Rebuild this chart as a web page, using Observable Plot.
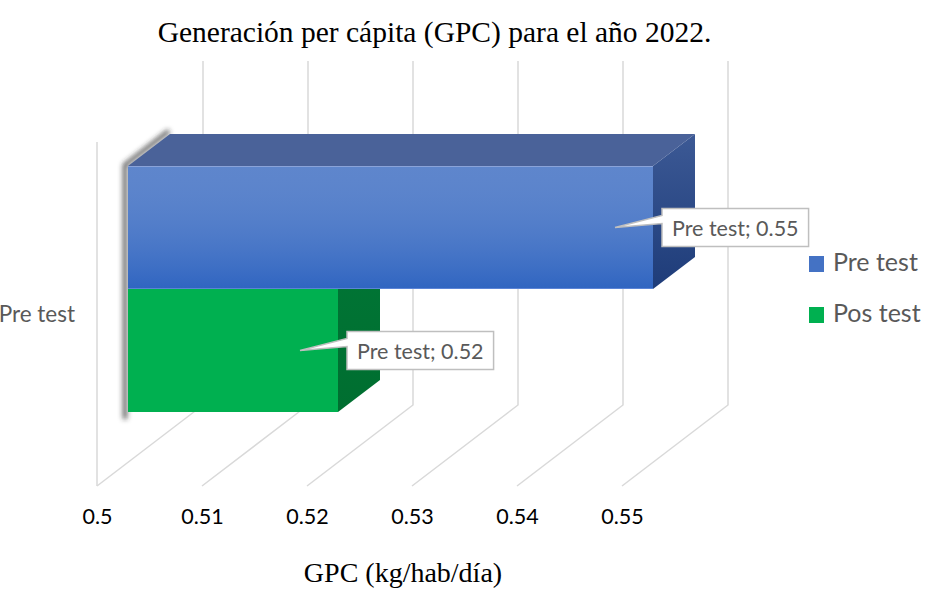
<!DOCTYPE html>
<html>
<head>
<meta charset="utf-8">
<script src="https://cdn.jsdelivr.net/npm/d3@7"></script>
<script src="https://cdn.jsdelivr.net/npm/@observablehq/plot@0.6"></script>
<style>
  html, body { margin: 0; padding: 0; background: #fff; }
  body { width: 928px; height: 589px; overflow: hidden; position: relative; }
  #title { position: absolute; left: 0; top: 18px; width: 869px; text-align: center;
           font-family: "Liberation Serif", "Times New Roman", serif; font-size: 29.5px; line-height: 1; color: #000; white-space: nowrap; }
  #xlabel { position: absolute; left: 0; top: 559px; width: 806px; text-align: center;
           font-family: "Liberation Serif", "Times New Roman", serif; font-size: 28px; line-height: 1; color: #000; white-space: nowrap; }
  #chart { position: absolute; left: 0; top: 52px; }
</style>
</head>
<body>
<div id="title"></div>
<div id="chart"></div>
<div id="xlabel"></div>
<script>
// ---------- data ----------
const categories = ["Pre test"];
const series = ["Pre test", "Pos test"];
const values = [0.55, 0.52];
const xTicks = [0.5, 0.51, 0.52, 0.53, 0.54, 0.55];
const titleText = "Generación per cápita (GPC) para el año 2022.";
const xLabelText = "GPC (kg/hab/día)";
const seriesColors = ["#4472c4", "#00b050"];

const data = series.map((s, i) => ({series: s, category: categories[0], value: values[i]}));
const base = xTicks[0];

// ---------- geometry / style ----------
const W = 928, H = 537;
const floorFront = 434, floorBack = 353, gridTop = 9, wallTop = 90;
const depthDX = 106;          // floor depth (px)
const frontDX = 31;           // bars' front plane offset
const barDX = 42, barDY = 32; // bar depth
const labelFont = "Lato";
const SVGNS = "http://www.w3.org/2000/svg";

function el(name, attrs, parent) {
  const e = document.createElementNS(SVGNS, name);
  for (const k in attrs) e.setAttribute(k, attrs[k]);
  if (parent) parent.appendChild(e);
  return e;
}
function bandwidth(y) { return typeof y.bandwidth === "function" ? y.bandwidth() : y.bandwidth; }
const ctx = document.createElement("canvas").getContext("2d");
function measure(text, size) { ctx.font = `${size}px ${labelFont}`; return ctx.measureText(text).width; }

// back: grid, wall, shadow, side and top faces
function backMark(index, scales) {
  const x = scales.x, y = scales.y, bw = bandwidth(y);
  const g = el("g", {});
  const defs = el("defs", {}, g);
  const f = el("filter", {id: "shBlur", x: "-50%", y: "-50%", width: "200%", height: "200%"}, defs);
  el("feGaussianBlur", {stdDeviation: 2.4}, f);
  const grads = [
    {id: "side0", top: "#3c5995", bot: "#1e3c79"},
    {id: "side1", top: "#007535", bot: "#006e30"}
  ];
  for (const gr of grads) {
    const lg = el("linearGradient", {id: gr.id, x1: 0, y1: 0, x2: 0, y2: 1}, defs);
    el("stop", {offset: "0%", "stop-color": gr.top}, lg);
    el("stop", {offset: "100%", "stop-color": gr.bot}, lg);
  }
  // gridlines
  for (const t of xTicks) {
    const x0 = x(t);
    el("path", {d: `M${x0},${floorFront}L${x0 + depthDX},${floorBack}V${gridTop}`, fill: "none", stroke: "#d9d9d9", "stroke-width": 1.5}, g);
  }
  // left wall front edge
  el("path", {d: `M${x(base)},${floorFront}V${wallTop}`, fill: "none", stroke: "#d9d9d9", "stroke-width": 1.5}, g);
  // shadow along the left contour
  const yTop = y(series[0]), yBot = y(series[series.length - 1]) + bw;
  const xl = x(base) + frontDX;
  el("path", {d: `M${xl + barDX + 2},${yTop - barDY - 3}L${xl},${yTop - 1}L${xl},${yBot + 7}`, fill: "none", stroke: "#2e2e2e", "stroke-width": 4.5,
    "stroke-opacity": 0.75, filter: "url(#shBlur)", transform: "translate(-3,0)"}, g);
  const topColors = ["#4a6299", "#008a3e"];
  for (let i = data.length - 1; i >= 0; --i) {
    const d = data[i];
    const x1 = x(base) + frontDX, x2 = x(d.value) + frontDX, y0 = y(d.series), y1 = y0 + bw;
    el("path", {d: `M${x1},${y0}L${x1 + barDX},${y0 - barDY}L${x2 + barDX},${y0 - barDY}L${x2},${y0}Z`, fill: topColors[i]}, g);
    el("path", {d: `M${x2},${y0}L${x2 + barDX},${y0 - barDY}L${x2 + barDX},${y1 - barDY}L${x2},${y1}Z`, fill: `url(#side${i})`}, g);
  }
  return g;
}

// front: gradient overlay, callouts, category label, legend
function frontMark(index, scales) {
  const x = scales.x, y = scales.y, color = scales.color, bw = bandwidth(y);
  const g = el("g", {"text-anchor": "start"});
  const defs = el("defs", {}, g);
  const lg = el("linearGradient", {id: "frontOv", x1: 0, y1: 0, x2: 0, y2: 1}, defs);
  el("stop", {offset: "0%", "stop-color": "#ffffff", "stop-opacity": 0.14}, lg);
  el("stop", {offset: "100%", "stop-color": "#0046b9", "stop-opacity": 0.3}, lg);
  // blue front overlay
  {
    const d = data[0];
    const x1 = x(base) + frontDX, x2 = x(d.value) + frontDX, y0 = y(d.series);
    el("rect", {x: x1, y: y0, width: x2 - x1, height: bw, fill: "url(#frontOv)"}, g);
    el("path", {d: `M${x1},${y0 + 0.5}H${x2}`, stroke: "#8aa3d9", "stroke-width": 1}, g);
    el("path", {d: `M${x1},${y0 + bw - 0.5}H${x2}`, stroke: "#5b84d6", "stroke-width": 1}, g);
  }
  // callouts
  const fs = 21.5;
  for (const d of data) {
    const xr = x(d.value) + frontDX, yc = y(d.series) + bw / 2;
    const text = `${d.category}; ${d.value}`;
    const tw = measure(text, fs);
    const bx = xr + 9, bwid = tw + 20, bh = 38, by = yc - bh / 2;
    const tipx = xr - 38, tipy = yc;
    el("path", {d: `M${bx},${by}H${bx + bwid}V${by + bh}H${bx}V${by + 15}L${tipx},${tipy}L${bx},${by + 7}Z`,
      fill: "#ffffff", stroke: "#bfbfbf", "stroke-width": 1.5, "stroke-linejoin": "miter"}, g);
    const t = el("text", {x: bx + 10, y: by + 27, fill: "#595959", "font-size": fs, "font-family": labelFont, "text-anchor": "start"}, g);
    t.textContent = text;
  }
  // category label
  const mid = (y(series[0]) + y(series[series.length - 1]) + bw) / 2;
  const ct = el("text", {x: x(base) - 22, y: mid + 33, "text-anchor": "end", fill: "#595959", "font-size": 22.5, "font-family": labelFont}, g);
  ct.textContent = categories[0];
  // legend
  series.forEach((s, i) => {
    const ly = 204 + i * 51;
    el("rect", {x: 809, y: ly, width: 15, height: 16, fill: color(s)}, g);
    const lt = el("text", {x: 833, y: ly + 15, fill: "#595959", "font-size": 25, "font-family": labelFont, "text-anchor": "start"}, g);
    lt.textContent = s;
  });
  return g;
}

const chart = Plot.plot({
  width: W,
  height: H,
  marginTop: 0, marginLeft: 0, marginRight: 0, marginBottom: 66,
  style: {fontFamily: labelFont, background: "transparent"},
  x: {domain: [xTicks[0], xTicks[xTicks.length - 1]], range: [97, 622], axis: null},
  y: {type: "band", domain: series, range: [113, 360], padding: 0, axis: null},
  color: {domain: series, range: seriesColors},
  marks: [
    backMark,
    Plot.barX(data, {x1: () => base, x2: "value", y: "series", fill: "series", dx: frontDX, inset: 0}),
    frontMark,
    Plot.text(xTicks, {x: (d) => d, text: (d) => String(d), frameAnchor: "bottom", lineAnchor: "bottom",
      fontSize: 21.5, fill: "#000", fontFamily: labelFont})
  ]
});

document.getElementById("chart").appendChild(chart);
document.getElementById("title").textContent = titleText;
document.getElementById("xlabel").textContent = xLabelText;
</script>
</body>
</html>
